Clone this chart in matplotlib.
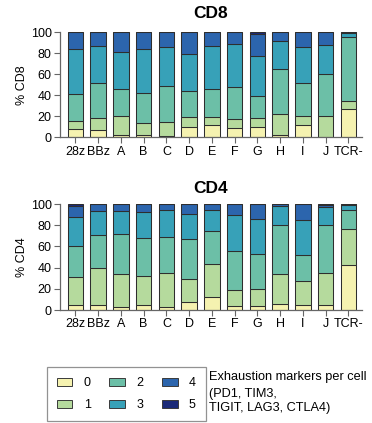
import matplotlib.pyplot as plt
from matplotlib.patches import Patch
import numpy as np

plt.rcParams['font.family'] = ['Liberation Sans', 'DejaVu Sans']

categorias = ['28z', 'BBz', 'A', 'B', 'C', 'D', 'E', 'F', 'G', 'H', 'I', 'J', 'TCR-']
niveis = ['0', '1', '2', '3', '4', '5']
cores = ['#f5f2b0', '#b5da9d', '#6cbfa7', '#37a1b8', '#2c65ad', '#1b2a78']

# % of cells with 0..5 exhaustion markers
cd8_0 = [8, 7, 2, 2, 1, 10, 12, 9, 10, 2, 12, 0.5, 27]
cd8_1 = [8, 11, 18, 12, 14, 9, 7, 8, 8, 20, 8, 19.5, 8]
cd8_2 = [25, 34, 26, 28, 34, 25, 27, 31, 21, 43, 32, 40, 61]
cd8_3 = [43, 35, 35, 42, 37, 35, 41, 41, 38, 27, 34, 28, 3]
cd8_4 = [16, 13, 19, 16, 14, 21, 13, 11, 21, 8, 14, 12, 1]
cd8_5 = [0, 0, 0, 0, 0, 0, 0, 0, 2, 0, 0, 0, 0]

cd4_0 = [5, 5, 3, 5, 3, 8, 12, 4, 4, 6, 5, 5, 42]
cd4_1 = [26, 35, 31, 27, 32, 21, 31, 15, 16, 28, 22, 30, 34]
cd4_2 = [29, 31, 38, 36, 34, 38, 32, 37, 33, 46, 25, 45, 18.5]
cd4_3 = [28, 22, 21, 24, 25, 24, 19, 34, 33, 18, 33, 17, 5]
cd4_4 = [10, 7, 7, 8, 6, 9, 6, 10, 14, 2, 15, 2, 0.5]
cd4_5 = [2, 0, 0, 0, 0, 0, 0, 0, 0, 0, 0, 1, 0]

cd8 = [cd8_0, cd8_1, cd8_2, cd8_3, cd8_4, cd8_5]
cd4 = [cd4_0, cd4_1, cd4_2, cd4_3, cd4_4, cd4_5]

fig = plt.figure(figsize=(3.72, 4.23), dpi=100)
ax1 = fig.add_axes([0.1613, 0.6754, 0.811, 0.2482])
ax2 = fig.add_axes([0.1613, 0.2671, 0.811, 0.2506])

x = np.arange(len(categorias))
for ax, dados, nome, pad in [(ax1, cd8, 'CD8', 10), (ax2, cd4, 'CD4', 8)]:
    base = np.zeros(len(categorias))
    for i, valores in enumerate(dados):
        ax.bar(x, valores, bottom=base, width=0.68, color=cores[i],
               edgecolor='#2e2e2e', linewidth=0.75)
        base = base + np.array(valores)
    ax.set_xlim(-0.68, 12.59)
    ax.set_ylim(0, 100)
    ax.set_yticks([0, 20, 40, 60, 80, 100])
    ax.set_xticks(x)
    ax.set_xticklabels(categorias)
    ax.set_ylabel('% ' + nome, fontsize=9, labelpad=2)
    ax.set_title(nome, fontsize=12.5, fontweight='bold', pad=pad, x=0.5)
    for lado in ['top', 'right']:
        ax.spines[lado].set_visible(False)
    for lado in ['left', 'bottom']:
        ax.spines[lado].set_color('#666666')
        ax.spines[lado].set_linewidth(0.9)
    ax.tick_params(axis='both', colors='#666666', labelcolor='black',
                   labelsize=9, length=4, width=0.8, pad=2)

handles = [Patch(facecolor=cores[i], edgecolor='#3a3a3a', linewidth=0.7, label=niveis[i])
           for i in range(6)]
leg = fig.legend(handles=handles, ncol=3, loc='lower left',
                 bbox_to_anchor=(0.126, 0.004), fontsize=9, frameon=True,
                 fancybox=False, edgecolor='#777777', handlelength=1.25,
                 handleheight=0.7, handletextpad=0.9, columnspacing=1.5,
                 labelspacing=0.8, borderpad=0.8, borderaxespad=0)
leg.get_frame().set_linewidth(0.9)

fig.text(0.562, 1 - 377 / 423, 'Exhaustion markers per cell', fontsize=9.2, va='center')
fig.text(0.562, 1 - 394 / 423, '(PD1, TIM3,', fontsize=9.2, va='center')
fig.text(0.562, 1 - 408 / 423, 'TIGIT, LAG3, CTLA4)', fontsize=9.2, va='center')

fig.savefig('out.png', dpi=100)
